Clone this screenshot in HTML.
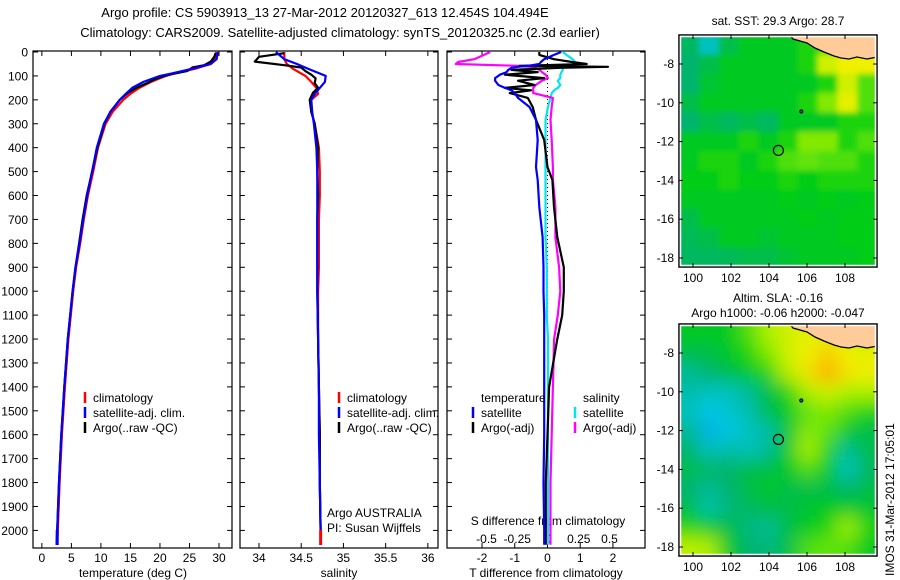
<!DOCTYPE html>
<html><head><meta charset="utf-8"><style>
body{margin:0;background:#fff;}
svg{display:block;font-family:"Liberation Sans",Arial,sans-serif;}
text{fill:#000;}
</style></head><body>
<svg id="c" width="900" height="580" viewBox="0 0 900 580" xmlns="http://www.w3.org/2000/svg">
<defs>
<clipPath id="cm1"><rect x="681" y="37" width="194" height="228"/></clipPath>
<clipPath id="cm2"><rect x="681" y="326" width="194" height="230"/></clipPath>
<filter id="bl2" x="-5%" y="-5%" width="110%" height="110%"><feGaussianBlur stdDeviation="9"/></filter>
<filter id="bl1" x="-5%" y="-5%" width="110%" height="110%"><feGaussianBlur stdDeviation="3"/></filter>
</defs>
<text x="325" y="17" font-size="13" text-anchor="middle">Argo profile: CS 5903913_13 27-Mar-2012 20120327_613 12.454S 104.494E</text>
<text x="340" y="37" font-size="13" text-anchor="middle">Climatology: CARS2009. Satellite-adjusted climatology: synTS_20120325.nc (2.3d earlier)</text>
<g id="g"></g>
</svg>
<script>
// ---------- data ----------
const depthTicks=[0,100,200,300,400,500,600,700,800,900,1000,1100,1200,1300,1400,1500,1600,1700,1800,1900,2000];
const tempTicks=[0,5,10,15,20,25,30];
const salTicks=[34,34.5,35,35.5,36];
const salTickLabels=["34","34.5","35","35.5","36"];
const tdTicks=[-2,-1,0,1,2];
const sdTicks=[-0.5,-0.25,0,0.25,0.5];
const sdTickLabels=["-0.5","-0.25","0","0.25","0.5"];

const climDepth=[0,30,50,70,90,100,125,150,175,200,250,300,400,500,600,700,800,900,1000,1200,1400,1600,1800,2000,2060];
const climTemp=[29.5,29.3,28.5,26,22.5,21,18.5,16.5,15,13.8,12,10.8,9.5,8.7,7.8,7.1,6.5,5.8,5.3,4.5,3.9,3.4,3.0,2.7,2.6];
const satTemp=[29.8,29.6,28.6,25.5,22,20,17.2,15.3,14.2,13.2,11.6,10.5,9.3,8.5,7.7,7.0,6.4,5.7,5.2,4.4,3.8,3.3,2.9,2.6,2.5];
const argoDepth=[5,20,40,55,65,80,95,110,130,150,170,200,250,300,400,500,600,700,800,900,1000,1200,1400,1600,1800,2000,2060];
const argoTemp=[29.4,29.2,28.6,27.5,25.5,24.6,21.5,19.5,17.8,16.0,14.6,13.2,11.6,10.6,9.4,8.5,7.6,6.9,6.3,5.7,5.2,4.4,3.8,3.3,2.9,2.6,2.5];

const climSal=[34.3,34.3,34.33,34.4,34.5,34.55,34.62,34.68,34.7,34.62,34.62,34.66,34.71,34.72,34.72,34.71,34.71,34.71,34.7,34.7,34.71,34.72,34.72,34.73,34.73];
const satSal=[34.2,34.3,34.45,34.58,34.72,34.79,34.78,34.72,34.66,34.62,34.63,34.65,34.68,34.69,34.69,34.69,34.69,34.69,34.69,34.7,34.71,34.71,34.72,34.73,34.73];
const argoSal=[34.3,34.0,33.95,34.3,34.5,34.55,34.62,34.67,34.66,34.7,34.64,34.6,34.62,34.66,34.7,34.69,34.7,34.69,34.69,34.69,34.69,34.7,34.71,34.72,34.72,34.73,34.73];

const dDepth=[0,12,30,42,50,58,62,66,75,84,95,109,120,138,150,160,172,192,230,284,368,481,535,648,774,900,1000,1100,1200,1400,1600,1800,2000,2060];
const satTdiff=[0.42,0.2,-0.1,-0.2,-0.25,-0.6,-0.9,-1.1,-1.2,-1.25,-1.45,-1.6,-1.6,-1.5,-1.3,-1.1,-1.0,-0.9,-0.55,-0.35,-0.3,-0.35,-0.3,-0.25,-0.15,-0.12,-0.12,-0.1,-0.1,-0.1,-0.1,-0.12,-0.1,-0.1];
const argoTdiff=[-0.25,-0.25,0.2,0.75,1.2,-0.85,1.85,0.4,-1.1,-0.3,-1.3,-0.1,-0.9,-0.4,-1.3,-0.5,-1.15,-0.6,-0.45,-0.35,-0.1,0,0.15,0.2,0.3,0.5,0.5,0.45,0.3,0.05,0.0,-0.05,-0.05,-0.05];
const satSdiff=[0.12,0.15,0.2,0.22,0.2,0.15,0.12,0.12,0.12,0.11,0.1,0.1,0.08,0.1,0.08,0.05,0.03,0.02,0,-0.02,-0.02,-0.02,-0.02,-0.02,-0.02,-0.01,-0.01,-0.01,0,0,0,0,0,0];
const argoSdiff=[-0.47,-0.52,-0.6,-0.73,-0.75,-0.23,-0.15,-0.1,-0.07,-0.05,-0.02,0,-0.05,-0.1,-0.12,-0.12,-0.12,0.04,0.03,0.02,0.03,0.04,0.04,0.06,0.06,0.09,0.1,0.08,0.05,0.04,0.03,0.02,0.02,0.02];

const latTicks=[-8,-10,-12,-14,-16,-18];
const lonTicks=[100,102,104,106,108];
const argoLon=104.494, argoLat=-12.454;
const sstGrid=[
[.42,.3,.45,.5,.5,.5,.55,.6,.85,.9],
[.4,.45,.5,.5,.5,.5,.55,.75,.8,.8],
[.4,.48,.5,.5,.5,.5,.5,.55,.75,.6],
[.45,.5,.5,.5,.5,.5,.55,.65,.78,.6],
[.4,.45,.42,.45,.42,.5,.5,.5,.55,.55],
[.5,.5,.5,.55,.5,.55,.65,.65,.55,.6],
[.5,.55,.55,.5,.55,.6,.62,.6,.6,.55],
[.52,.52,.55,.52,.52,.55,.52,.55,.55,.55],
[.5,.5,.5,.5,.5,.52,.5,.52,.5,.52],
[.45,.5,.5,.5,.5,.5,.52,.5,.52,.52],
[.43,.45,.5,.5,.48,.5,.5,.5,.52,.52],
[.42,.42,.43,.45,.45,.48,.5,.5,.5,.52]];
const slaGrid=[
[.5,.5,.5,.6,.7,.75,.78,.78,.75,.72],
[.45,.45,.5,.55,.65,.75,.8,.85,.8,.78],
[.35,.4,.45,.5,.55,.72,.82,.9,.82,.8],
[.33,.3,.3,.35,.45,.55,.7,.75,.7,.7],
[.3,.25,.28,.32,.45,.5,.62,.65,.6,.55],
[.35,.22,.25,.3,.33,.48,.65,.62,.5,.45],
[.4,.3,.33,.3,.35,.5,.7,.55,.35,.45],
[.45,.42,.4,.45,.45,.5,.6,.5,.3,.42],
[.4,.35,.4,.45,.5,.45,.45,.45,.4,.45],
[.45,.32,.38,.42,.45,.45,.48,.5,.5,.48],
[.55,.5,.45,.38,.35,.45,.5,.55,.68,.55],
[.72,.7,.5,.4,.38,.45,.6,.62,.6,.5]];

// ---------- helpers ----------
const NS="http://www.w3.org/2000/svg";
const G=document.getElementById('g');
function el(t,a,p){const e=document.createElementNS(NS,t);for(const k in a)e.setAttribute(k,a[k]);(p||G).appendChild(e);return e;}
function txt(x,y,s,anchor,size,p){const e=el('text',{x:x,y:y,'font-size':size||12,'text-anchor':anchor||'start'},p);e.textContent=s;return e;}
const yD=d=>52+d*0.2392;
const panels=[
 {x0:33,x1:232,min:-1.5,max:32.2},
 {x0:240,x1:438,min:33.775,max:36.12},
 {x0:447,x1:645,min:-3.07,max:2.98}];
const yTop=51, yBot=548;
function sx(p,v){return p.x0+(v-p.min)/(p.max-p.min)*(p.x1-p.x0);}
function sxS(v){return 548+v*123;}
function line(xs,ds,fx,color,name,w){
 const pts=xs.map((v,i)=>fx(v).toFixed(1)+','+yD(ds[i]).toFixed(1)).join(' ');
 const e=el('polyline',{points:pts,fill:'none',stroke:color,'stroke-width':w||2.2,'stroke-linejoin':'round'});
 
 
}
panels.forEach((p,i)=>{
 const f=el('rect',{x:p.x0,y:yTop,width:p.x1-p.x0,height:yBot-yTop,fill:'none',stroke:'#000','stroke-width':1.2});
 
 
 depthTicks.forEach(d=>{
  el('line',{x1:p.x0,x2:p.x0+5,y1:yD(d),y2:yD(d),stroke:'#000'});
  el('line',{x1:p.x1,x2:p.x1-5,y1:yD(d),y2:yD(d),stroke:'#000'});
  if(i===0){const t=txt(p.x0-5,yD(d)+4.5,String(d),'end',12);
   
   }
 });
});
const p0=panels[0],p1=panels[1],p2=panels[2];
tempTicks.forEach(v=>{const x=sx(p0,v);el('line',{x1:x,x2:x,y1:yBot,y2:yBot-5,stroke:'#000'});el('line',{x1:x,x2:x,y1:yTop,y2:yTop+5,stroke:'#000'});
 const t=txt(x,562,String(v),'middle');});
salTicks.forEach((v,i)=>{const x=sx(p1,v);el('line',{x1:x,x2:x,y1:yBot,y2:yBot-5,stroke:'#000'});el('line',{x1:x,x2:x,y1:yTop,y2:yTop+5,stroke:'#000'});
 const t=txt(x,562,salTickLabels[i],'middle');});
tdTicks.forEach(v=>{const x=sx(p2,v);el('line',{x1:x,x2:x,y1:yBot,y2:yBot-5,stroke:'#000'});el('line',{x1:x,x2:x,y1:yTop,y2:yTop+5,stroke:'#000'});
 const t=txt(x,562,String(v),'middle');});
sdTicks.forEach((v,i)=>{const t=txt(sxS(v),543,sdTickLabels[i],'middle');});
let t;
t=txt(133,577,'temperature (deg C)','middle');
t=txt(339,577,'salinity','middle');
t=txt(546,577,'T difference from climatology','middle');
t=txt(548,525,'S difference from climatology','middle');
el('line',{x1:sx(p2,0),x2:sx(p2,0),y1:yTop,y2:yBot,stroke:'#000','stroke-dasharray':'1,3'});
line(climTemp,climDepth,v=>sx(p0,v),'#ff0000','temp-climatology-line');
line(argoTemp,argoDepth,v=>sx(p0,v),'#000','temp-argo-line');
line(satTemp,climDepth,v=>sx(p0,v),'#0000ff','temp-satellite-line');
line(climSal,climDepth,v=>sx(p1,v),'#ff0000','sal-climatology-line');
line(argoSal,argoDepth,v=>sx(p1,v),'#000','sal-argo-line');
line(satSal,climDepth,v=>sx(p1,v),'#0000ff','sal-satellite-line');
line(satSdiff,dDepth,sxS,'#00e5ee','sdiff-satellite-line');
line(argoSdiff,dDepth,sxS,'#ff00ff','sdiff-argo-line');
line(argoTdiff,dDepth,v=>sx(p2,v),'#000','tdiff-argo-line');
line(satTdiff,dDepth,v=>sx(p2,v),'#0000ff','tdiff-satellite-line');
el('line',{x1:sx(p0,2.6),x2:sx(p0,2.6),y1:530,y2:545,stroke:'#0000ff','stroke-width':3});
el('line',{x1:sx(p1,34.73),x2:sx(p1,34.73),y1:530,y2:545,stroke:'#ff0000','stroke-width':3});
function leg(x,y,c,s,name){const b=el('line',{x1:x,x2:x,y1:y-10,y2:y+1,stroke:c,'stroke-width':2.5});
 const tt=txt(x+8,y,s,'start',12);}
leg(85,402,'#ff0000','climatology','legend-climatology');
leg(85,417,'#0000ff','satellite-adj. clim.','legend-satellite');
leg(85,432,'#000','Argo(..raw -QC)','legend-argo');
leg(339,402,'#ff0000','climatology','legend-sal-climatology');
leg(339,417,'#0000ff','satellite-adj. clim.','legend-sal-satellite');
leg(339,432,'#000','Argo(..raw -QC)','legend-sal-argo');
t=txt(481,402,'temperature');
t=txt(583,402,'salinity');
leg(473,417,'#0000ff','satellite','legend-t-satellite');
leg(473,432,'#000','Argo(-adj)','legend-t-argo');
leg(575,417,'#00e5ee','satellite','legend-s-satellite');
leg(575,432,'#ff00ff','Argo(-adj)','legend-s-argo');
t=txt(327,517,'Argo AUSTRALIA');
t=txt(327,532,'PI: Susan Wijffels');

// ---------- maps ----------
function cmap(v){
 const st=[[0,[0,0,200]],[0.25,[0,200,230]],[0.4,[0,180,110]],[0.52,[0,205,20]],[0.68,[160,240,0]],[0.8,[240,240,0]],[0.92,[255,160,0]],[1,[255,100,0]]];
 for(let i=1;i<st.length;i++){if(v<=st[i][0]){const a=st[i-1],b=st[i],f=(v-a[0])/(b[0]-a[0]);
  return 'rgb('+a[1].map((c,k)=>Math.round(c+(b[1][k]-c)*f)).join(',')+')';}}
 return 'rgb(255,100,0)';
}
function drawMap(top,grid,clip,filt,name,latY0){
 const x0=679,x1=877,y0=top,y1=top+232;
 const lx=v=>693+(v-100)*19;
 const ly=v=>latY0+(-8-v)*19.4;
 const g=el('g',{'clip-path':'url(#'+clip+')'});
 
 
 const gi=el('g',{filter:'url(#'+filt+')'},g);
 const nr=grid.length,nc=grid[0].length,cw=(x1-x0)/nc,ch=(y1-y0)/nr;
 grid.forEach((row,r)=>row.forEach((v,c)=>{
  const cell=el('rect',{x:x0+c*cw-(c===0?20:0),y:y0+r*ch-(r===0?20:0),width:cw+(c===0?20:0)+(c===nc-1?20:0)+0.5,height:ch+(r===0?20:0)+(r===nr-1?20:0)+0.5,fill:cmap(v)},gi);
  
  
 }));
 const land=el('path',{d:`M${x0+111},${y0} L${x0+114},${y0+4} L${x0+121},${y0+6} L${x0+128},${y0+8} L${x0+136},${y0+13} L${x0+145},${y0+17} L${x0+155},${y0+21} L${x0+162},${y0+23} L${x0+170},${y0+24} L${x0+178},${y0+22} L${x0+188},${y0+24} L${x1},${y0+22} L${x1},${y0} Z`,fill:'#ffcc99',stroke:'#000','stroke-width':1.3},g);
 
 
 const fr=el('rect',{x:x0,y:y0,width:x1-x0,height:y1-y0,fill:'none',stroke:'#000','stroke-width':1.5});
 
 
 el('rect',{x:x0+1.5,y:y0+1.5,width:x1-x0-3,height:y1-y0-3,fill:'none',stroke:'#fff','stroke-width':1.5});
 latTicks.forEach(v=>{const y=ly(v);el('line',{x1:x0,x2:x0+4,y1:y,y2:y,stroke:'#000'});el('line',{x1:x1,x2:x1-4,y1:y,y2:y,stroke:'#000'});
  const tt=txt(x0-5,y+4,String(v),'end');});
 lonTicks.forEach(v=>{const x=lx(v);el('line',{x1:x,x2:x,y1:y0,y2:y0+4,stroke:'#000'});el('line',{x1:x,x2:x,y1:y1,y2:y1-4,stroke:'#000'});
  const tt=txt(x,y1+15,String(v),'middle');});
 const c=el('circle',{cx:lx(argoLon),cy:ly(argoLat),r:5,fill:'none',stroke:'#000','stroke-width':1.2});
 
 
 el('circle',{cx:lx(105.7),cy:ly(-10.45),r:1.6,fill:'#2050ff',stroke:'#000','stroke-width':1});
}
drawMap(35,sstGrid,'cm1','bl1','sst-map',64);
drawMap(324,slaGrid,'cm2','bl2','sla-map',353);
t=txt(778,25,'sat. SST: 29.3 Argo: 28.7','middle');
t=txt(778,302,'Altim. SLA: -0.16','middle');
t=txt(778,317,'Argo h1000: -0.06 h2000: -0.047','middle');
t=txt(0,0,'IMOS 31-Mar-2012 17:05:01','start',12);
t.setAttribute('transform','translate(894,576) rotate(-90)');


</script>
</body></html>
